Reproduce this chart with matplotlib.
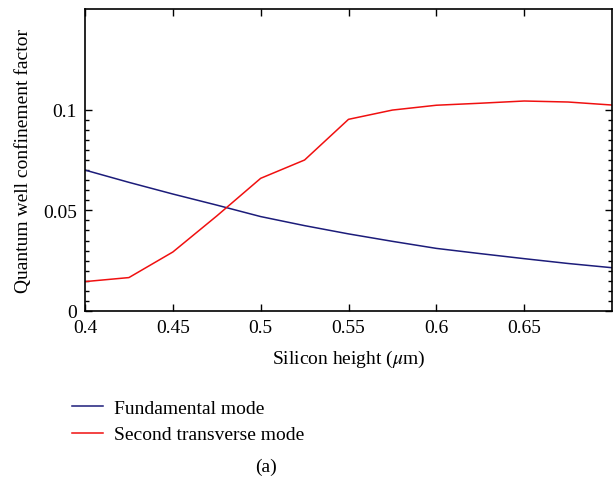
import numpy as np
import matplotlib
matplotlib.use("Agg")
import matplotlib.pyplot as plt
from matplotlib.ticker import FixedLocator

# Silicon height (um)
height = [0.4, 0.425, 0.45, 0.475, 0.5, 0.525, 0.55, 0.575, 0.6, 0.625, 0.65, 0.675, 0.7]

# confinement factors
fundamental = [0.0700, 0.0639, 0.0581, 0.0526, 0.0469, 0.0424, 0.0383, 0.0346,
               0.0311, 0.0285, 0.0260, 0.0236, 0.0215]
second = [0.0146, 0.0166, 0.0293, 0.0472, 0.0659, 0.0750, 0.0952, 0.0998,
          0.1022, 0.1032, 0.1043, 0.1038, 0.1023]

xticks = [0.4, 0.45, 0.5, 0.55, 0.6, 0.65]
xticklabels = ["0.4", "0.45", "0.5", "0.55", "0.6", "0.65"]
yticks = [0, 0.05, 0.1]
yticklabels = ["0", "0.05", "0.1"]

plt.rcParams['font.family'] = ['Liberation Serif', 'DejaVu Serif']
plt.rcParams['mathtext.fontset'] = 'stix'

fig = plt.figure(figsize=(6.13, 4.85), dpi=100)
ax = fig.add_axes([85 / 613, 1 - 312 / 485, 527 / 613, 302 / 485])

l1, = ax.plot(height, fundamental, color='#1c1c7a', lw=1.1)
l2, = ax.plot(height, second, color='#f01010', lw=1.1)

ax.set_xlim(0.4, 0.7)
ax.set_ylim(0, 0.15)
ax.set_xticks(xticks)
ax.set_xticklabels(xticklabels)
ax.set_yticks(yticks)
ax.set_yticklabels(yticklabels)
ax.yaxis.set_minor_locator(FixedLocator(np.arange(0.005, 0.1, 0.005)))
ax.tick_params(which='both', direction='in', top=True, right=True, labelsize=14, width=1)
ax.tick_params(which='major', length=5)
ax.tick_params(which='minor', length=3)
ax.tick_params(axis='x', pad=6)
ax.tick_params(axis='y', pad=6)
for s in ax.spines.values():
    s.set_linewidth(1.2)

ax.set_xlabel(r"Silicon height ($\mu$m)", fontsize=14, labelpad=8)
ax.set_ylabel("Quantum well confinement factor", fontsize=14, labelpad=8)

fig.legend([l1, l2], ["Fundamental mode", "Second transverse mode"],
           loc='upper left', bbox_to_anchor=(54 / 613, 1 - 383 / 485),
           frameon=False, fontsize=14, handlelength=1.6, handletextpad=0.6,
           labelspacing=0.45)

fig.text(266 / 613, 1 - 467 / 485, "(a)", ha='center', va='center', fontsize=14)

fig.savefig("out.png", dpi=100)
